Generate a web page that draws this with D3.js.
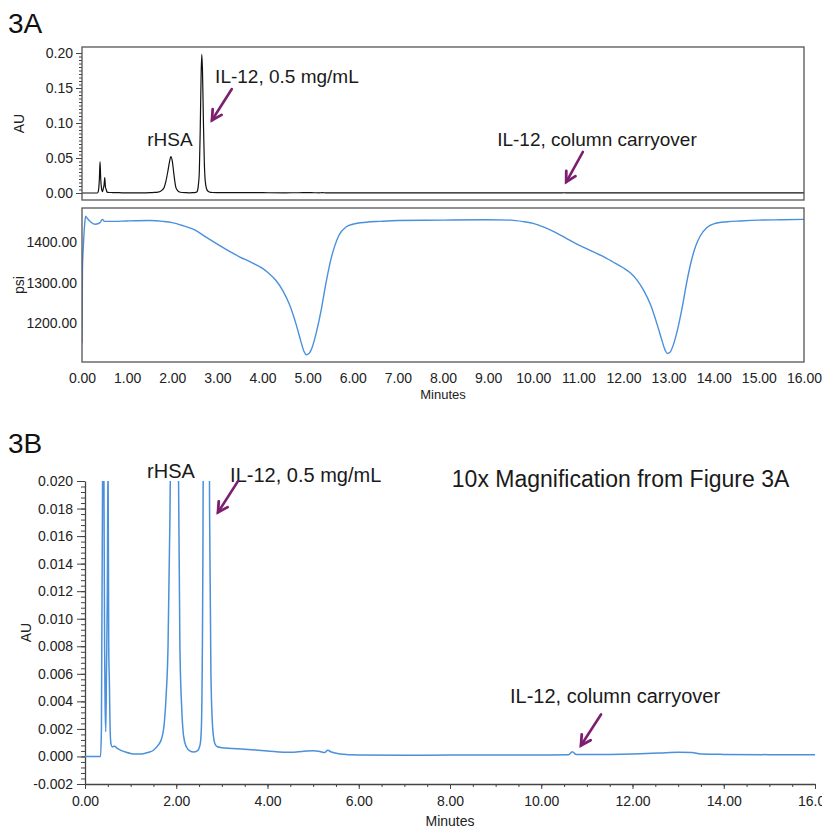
<!DOCTYPE html>
<html><head><meta charset="utf-8">
<script src="https://cdn.jsdelivr.net/npm/d3@7"></script>
<style>
html,body{margin:0;padding:0;background:#fff;}
svg{display:block;font-family:"Liberation Sans",Arial,sans-serif;}
</style></head>
<body>
<svg id="chart" width="822" height="830"></svg>
<script>
// ---- Data ----
const uvTime = [0,0.34,0.36,0.385,0.40,0.415,0.43,0.44,0.455,0.47,0.49,0.505,0.52,0.535,0.55,0.57,0.60,0.65,0.70,0.80,0.90,1.00,1.10,1.20,1.30,1.40,1.50,1.60,1.68,1.74,1.78,1.82,1.86,1.90,1.94,1.97,2.00,2.04,2.08,2.12,2.16,2.22,2.30,2.38,2.46,2.52,2.55,2.58,2.60,2.62,2.64,2.655,2.67,2.69,2.71,2.73,2.76,2.80,2.85,2.90,3.0,3.5,4.0,4.5,4.8,5.0,5.15,5.25,5.32,5.4,5.6,6.0,7.0,8.0,9.0,10.0,10.6,10.68,10.76,11.0,12.0,12.6,13.0,13.3,13.5,14.0,15.0,16.0];
const uvAU = [0,0,0.002,0.02,0.045,0.02,0.0078,0.004,0.0018,0.006,0.012,0.022,0.008,0.0053,0.002,0.0009,0.0007,0.00075,0.0006,0.00042,0.0003,0.00022,0.00018,0.00018,0.00022,0.0003,0.00045,0.0008,0.0013,0.0025,0.0045,0.008,0.017,0.030,0.045,0.052,0.046,0.025,0.008,0.0035,0.0015,0.0007,0.0004,0.00032,0.0004,0.0008,0.002,0.012,0.030,0.090,0.170,0.198,0.175,0.105,0.045,0.018,0.006,0.002,0.0009,0.0007,0.00064,0.00053,0.0004,0.0003,0.00038,0.00042,0.00036,0.00028,0.00045,0.00032,0.00018,0.0001,0.00008,0.0001,0.0001,0.00011,0.00012,0.00034,0.00015,0.00014,0.00018,0.00025,0.0003,0.00028,0.00018,0.00015,0.00013,0.00012];

const psiTime = [0,0.01,0.03,0.06,0.08,0.12,0.2,0.3,0.4,0.45,0.5,0.7,1.0,1.5,1.8,2.0,2.25,2.5,2.75,3.0,3.25,3.5,3.75,4.0,4.15,4.3,4.45,4.6,4.75,4.85,4.92,4.97,5.03,5.1,5.2,5.3,5.4,5.5,5.6,5.7,5.85,6.0,6.3,6.6,7.0,8.0,9.0,9.5,9.8,10.0,10.25,10.5,10.75,11.0,11.25,11.5,11.75,12.0,12.15,12.3,12.45,12.6,12.75,12.85,12.92,12.97,13.03,13.1,13.2,13.3,13.4,13.5,13.6,13.7,13.85,14.0,14.3,14.6,15.0,15.5,16.0];
const psiValue = [1150,1330,1390,1445,1464,1458,1449,1444,1448,1456,1451,1451,1452,1453,1451,1448,1440,1430,1412,1395,1378,1363,1350,1335,1322,1305,1280,1245,1195,1155,1130,1122,1125,1140,1180,1232,1295,1350,1390,1418,1437,1444,1449,1451,1453,1454,1455,1454,1450,1446,1436,1423,1408,1393,1380,1367,1352,1336,1324,1306,1280,1245,1195,1158,1134,1125,1128,1145,1185,1238,1300,1352,1390,1415,1436,1445,1450,1452,1454,1455,1456];

const auTicksA = [0, 0.05, 0.10, 0.15, 0.20];
const psiTicks = [1200, 1300, 1400];
const minuteTicksA = [0,1,2,3,4,5,6,7,8,9,10,11,12,13,14,15,16];
const auTicksB = [-0.002,0,0.002,0.004,0.006,0.008,0.010,0.012,0.014,0.016,0.018,0.020];
const minuteTicksB = [0,2,4,6,8,10,12,14,16];

const uv = uvTime.map((t,i)=>({t, v: uvAU[i]}));
const psi = psiTime.map((t,i)=>({t, v: psiValue[i]}));

// ---- Drawing ----
const svg = d3.select("#chart");
const FONT = '"Liberation Sans",Arial,sans-serif';
const TXT = "#222";
const AX = "#444";
const BLUE = "#4a90dc";
const PURPLE = "#7d1f70";

const xA = d3.scaleLinear().domain([0,16]).range([82,804]);
const yA = d3.scaleLinear().domain([-0.01,0.2086]).range([200,47]);
const yP = d3.scaleLinear().domain([1104,1484]).range([362,208]);
const xB = d3.scaleLinear().domain([0,16]).range([85,815]);
const yB = d3.scaleLinear().domain([-0.002,0.020]).range([784,481]);

const f2 = d => d.toFixed(2);
const f3 = d => d.toFixed(3);

function styleAxis(g, size){
  g.selectAll("path").attr("stroke", AX);
  g.selectAll("line").attr("stroke", AX);
  g.selectAll("text").attr("fill", TXT).style("font-family", FONT).style("font-size", (size||14)+"px");
}

// clip paths
const defs = svg.append("defs");
defs.append("clipPath").attr("id","clipA").append("rect")
  .attr("x",xA(0)).attr("y",yA.range()[1]).attr("width",xA(16)-xA(0)).attr("height",yA.range()[0]-yA.range()[1]);
defs.append("clipPath").attr("id","clipP").append("rect")
  .attr("x",xA(0)).attr("y",yP.range()[1]).attr("width",xA(16)-xA(0)).attr("height",yP.range()[0]-yP.range()[1]);
defs.append("clipPath").attr("id","clipB").append("rect")
  .attr("x",xB(0)).attr("y",yB.range()[1]).attr("width",xB(16)-xB(0)).attr("height",yB.range()[0]-yB.range()[1]);

// Panel labels
svg.append("text").attr("x",8).attr("y",33).text("3A")
  .style("font-size","28px").style("font-family",FONT).attr("fill","#111");
svg.append("text").attr("x",8).attr("y",453).text("3B")
  .style("font-size","28px").style("font-family",FONT).attr("fill","#111");

// ===== Panel 3A top (AU) =====
const gAminor = svg.append("g").attr("transform",`translate(${xA(0)},0)`)
  .call(d3.axisLeft(yA).tickValues(d3.range(0,0.2001,0.005)).tickSize(3).tickFormat(""));
gAminor.select(".domain").remove();
styleAxis(gAminor);
const gA = svg.append("g").attr("transform",`translate(${xA(0)},0)`)
  .call(d3.axisLeft(yA).tickValues(auTicksA).tickSize(6).tickPadding(3).tickFormat(f2));
gA.select(".domain").remove();
styleAxis(gA);
svg.append("path").datum(uv)
  .attr("clip-path","url(#clipA)")
  .attr("fill","none").attr("stroke","#111").attr("stroke-width",1.2)
  .attr("d", d3.line().x(d=>xA(d.t)).y(d=>yA(d.v)).curve(d3.curveMonotoneX));
svg.append("rect").attr("x",xA(0)).attr("y",yA.range()[1])
  .attr("width",xA(16)-xA(0)).attr("height",yA.range()[0]-yA.range()[1])
  .attr("fill","none").attr("stroke","#555").attr("stroke-width",1.3);
svg.append("text").attr("transform",`translate(24,${(yA.range()[0]+yA.range()[1])/2}) rotate(-90)`)
  .attr("text-anchor","middle").text("AU").style("font-size","14px").style("font-family",FONT).attr("fill",TXT);

// ===== Panel 3A bottom (psi) =====
const gP = svg.append("g").attr("transform",`translate(${xA(0)},0)`)
  .call(d3.axisLeft(yP).tickValues(psiTicks).tickSize(0).tickPadding(5).tickFormat(f2));
gP.select(".domain").remove();
styleAxis(gP);
svg.append("path").datum(psi)
  .attr("clip-path","url(#clipP)")
  .attr("fill","none").attr("stroke",BLUE).attr("stroke-width",1.4)
  .attr("d", d3.line().x(d=>xA(d.t)).y(d=>yP(d.v)).curve(d3.curveMonotoneX));
svg.append("rect").attr("x",xA(0)).attr("y",yP.range()[1])
  .attr("width",xA(16)-xA(0)).attr("height",yP.range()[0]-yP.range()[1])
  .attr("fill","none").attr("stroke","#555").attr("stroke-width",1.3);
const gPx = svg.append("g").attr("transform",`translate(0,${yP.range()[0]})`)
  .call(d3.axisBottom(xA).tickValues(minuteTicksA).tickSize(0).tickPadding(11).tickFormat(f2));
gPx.select(".domain").remove();
styleAxis(gPx);
svg.append("text").attr("transform",`translate(24,${(yP.range()[0]+yP.range()[1])/2}) rotate(-90)`)
  .attr("text-anchor","middle").text("psi").style("font-size","14px").style("font-family",FONT).attr("fill",TXT);
svg.append("text").attr("x",(xA(0)+xA(16))/2).attr("y",399).attr("text-anchor","middle")
  .text("Minutes").style("font-size","13px").style("font-family",FONT).attr("fill",TXT);

// ===== Panel 3B =====
const gBminor = svg.append("g").attr("transform",`translate(${xB(0)},0)`)
  .call(d3.axisLeft(yB).tickValues(d3.range(-0.002,0.02001,0.0004)).tickSize(4).tickFormat(""));
gBminor.select(".domain").remove();
styleAxis(gBminor);
const gB = svg.append("g").attr("transform",`translate(${xB(0)},0)`)
  .call(d3.axisLeft(yB).tickValues(auTicksB).tickSizeInner(8).tickSizeOuter(0).tickPadding(4).tickFormat(f3));
styleAxis(gB);
gB.select(".domain").attr("stroke-width",1.3);
const gBxminor = svg.append("g").attr("transform",`translate(0,${yB.range()[0]})`)
  .call(d3.axisBottom(xB).tickValues(d3.range(0,16.01,0.5)).tickSize(3).tickFormat(""));
gBxminor.select(".domain").remove();
styleAxis(gBxminor);
const gBx = svg.append("g").attr("transform",`translate(0,${yB.range()[0]})`)
  .call(d3.axisBottom(xB).tickValues(minuteTicksB).tickSizeInner(5).tickSizeOuter(0).tickPadding(7).tickFormat(f2));
styleAxis(gBx);
gBx.select(".domain").attr("stroke-width",1.3);
svg.append("path").datum(uv)
  .attr("clip-path","url(#clipB)")
  .attr("fill","none").attr("stroke",BLUE).attr("stroke-width",1.5)
  .attr("d", d3.line().x(d=>xB(d.t)).y(d=>yB(d.v)).curve(d3.curveMonotoneX));
svg.append("text").attr("transform",`translate(31,${(yB.range()[0]+yB.range()[1])/2}) rotate(-90)`)
  .attr("text-anchor","middle").text("AU").style("font-size","14px").style("font-family",FONT).attr("fill",TXT);
svg.append("text").attr("x",(xB(0)+xB(16))/2).attr("y",826).attr("text-anchor","middle")
  .text("Minutes").style("font-size","14px").style("font-family",FONT).attr("fill",TXT);

// ===== Annotations =====
function label(x, y, txt, size, anchor){
  svg.append("text").attr("x",x).attr("y",y).attr("text-anchor",anchor||"start")
    .text(txt).style("font-size",size+"px").style("font-family",FONT).attr("fill","#1a1a1a");
}
function arrow(x1,y1,x2,y2){
  const ang = Math.atan2(y2-y1, x2-x1);
  const L = 11, a = 0.5;
  const p1 = [x2 - L*Math.cos(ang-a), y2 - L*Math.sin(ang-a)];
  const p2 = [x2 - L*Math.cos(ang+a), y2 - L*Math.sin(ang+a)];
  svg.append("path").attr("d",`M${x1},${y1}L${x2},${y2}`)
    .attr("stroke",PURPLE).attr("stroke-width",2.6).attr("fill","none").attr("stroke-linecap","round");
  svg.append("path").attr("d",`M${p1[0]},${p1[1]}L${x2},${y2}L${p2[0]},${p2[1]}`)
    .attr("stroke",PURPLE).attr("stroke-width",2.8).attr("fill","none")
    .attr("stroke-linejoin","miter").attr("stroke-linecap","round");
}
// 3A
label(xA(1.95), yA(0.067), "rHSA", 19, "middle");
label(xA(2.95), yA(0.157), "IL-12, 0.5 mg/mL", 19);
arrow(xA(3.32), yA(0.1486), xA(2.88), yA(0.104));
label(xA(9.20), yA(0.067), "IL-12, column carryover", 19);
arrow(xA(11.10), yA(0.0586), xA(10.73), yA(0.0157));
// 3B
label(xB(1.885), yB(0.02019), "rHSA", 20, "middle");
label(xB(3.18), yB(0.0199), "IL-12, 0.5 mg/mL", 20);
arrow(xB(3.35), yB(0.01997), xB(2.915), yB(0.01772));
label(xB(8.04), yB(0.01953), "10x Magnification from Figure 3A", 23);
label(xB(9.315), yB(0.00385), "IL-12, column carryover", 20);
arrow(xB(11.31), yB(0.00305), xB(10.87), yB(0.0008));
</script>
</body></html>
